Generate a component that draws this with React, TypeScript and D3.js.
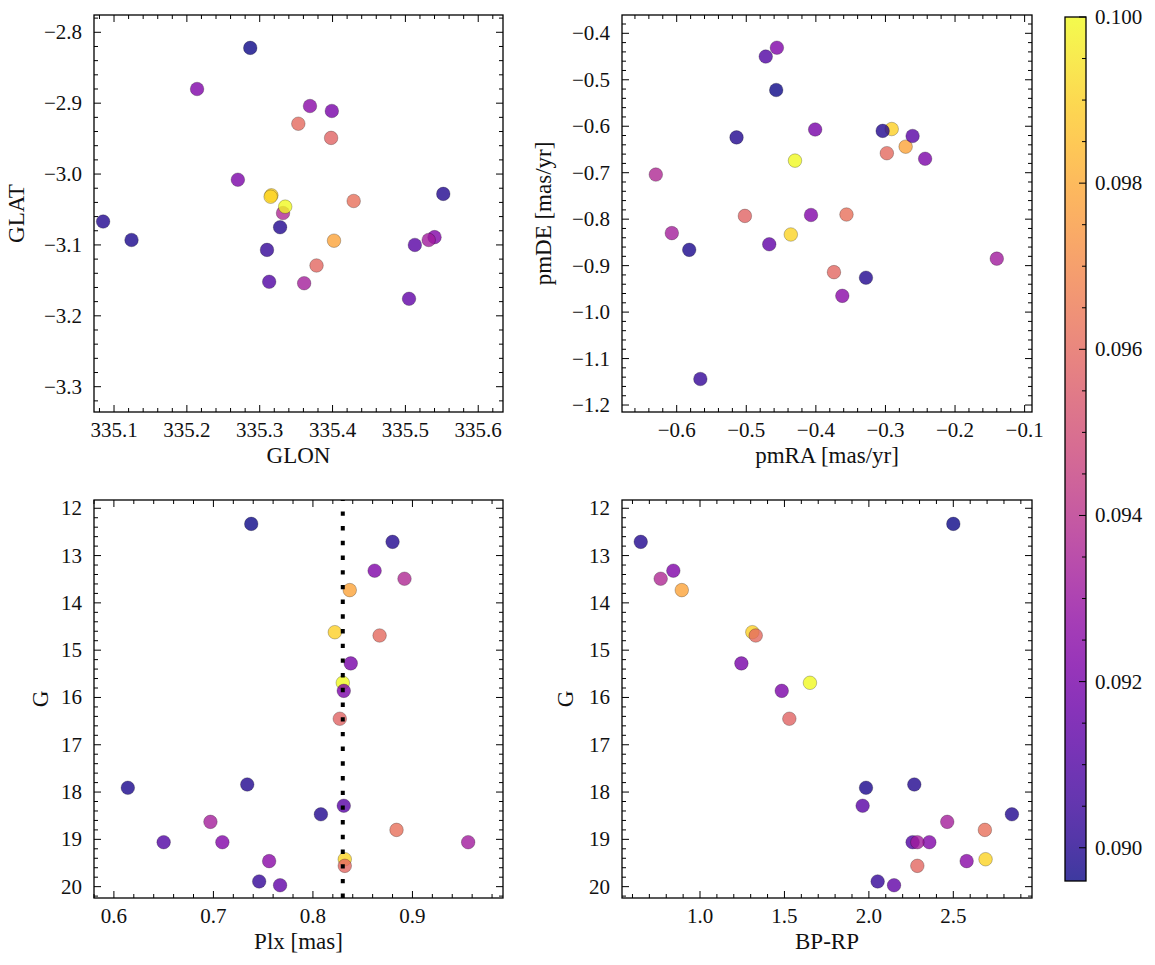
import React from "react";
import * as d3 from "d3";

// ---- data (one entry per star) ----
const glon = [335.287, 335.552, 335.214, 335.332, 335.402, 335.316, 335.353, 335.399, 335.335, 335.270, 335.398, 335.085, 335.124, 335.513, 335.328, 335.361, 335.429, 335.313, 335.540, 335.532, 335.315, 335.369, 335.378, 335.310, 335.505];
const glat = [-2.822, -3.028, -2.880, -3.055, -3.094, -3.030, -2.929, -2.911, -3.046, -3.008, -2.949, -3.067, -3.093, -3.100, -3.075, -3.154, -3.038, -3.152, -3.089, -3.093, -3.032, -2.904, -3.129, -3.107, -3.176];
const pmra = [-0.457, -0.514, -0.456, -0.630, -0.271, -0.291, -0.298, -0.401, -0.430, -0.243, -0.502, -0.304, -0.582, -0.261, -0.328, -0.607, -0.356, -0.472, -0.407, -0.140, -0.436, -0.362, -0.374, -0.566, -0.467];
const pmde = [-0.522, -0.624, -0.431, -0.704, -0.644, -0.606, -0.658, -0.607, -0.674, -0.670, -0.793, -0.610, -0.866, -0.621, -0.926, -0.830, -0.790, -0.450, -0.791, -0.885, -0.833, -0.965, -0.914, -1.144, -0.854];
const plx = [0.738, 0.880, 0.862, 0.892, 0.837, 0.822, 0.867, 0.838, 0.830, 0.831, 0.827, 0.734, 0.614, 0.831, 0.808, 0.697, 0.884, 0.650, 0.709, 0.956, 0.832, 0.756, 0.832, 0.746, 0.767];
const gmag = [12.33, 12.71, 13.32, 13.49, 13.73, 14.62, 14.69, 15.28, 15.69, 15.86, 16.45, 17.84, 17.91, 18.29, 18.47, 18.63, 18.80, 19.06, 19.06, 19.06, 19.42, 19.46, 19.56, 19.89, 19.97];
const bprp = [2.50, 0.649, 0.842, 0.767, 0.892, 1.310, 1.330, 1.245, 1.651, 1.484, 1.529, 2.269, 1.983, 1.963, 2.847, 2.464, 2.687, 2.259, 2.358, 2.287, 2.691, 2.579, 2.287, 2.052, 2.149];
const prob = [0.0896, 0.0899, 0.0922, 0.0937, 0.0978, 0.0990, 0.0960, 0.0920, 0.1000, 0.0921, 0.0958, 0.0899, 0.0898, 0.0912, 0.0899, 0.0933, 0.0962, 0.0910, 0.0923, 0.0932, 0.0991, 0.0925, 0.0959, 0.0903, 0.0914];

const plxRef = 0.83;
const cbTicks = [0.090, 0.092, 0.094, 0.096, 0.098, 0.100];

const FONT = "Liberation Serif, DejaVu Serif, Noto Serif, Times, serif";
const TICK_FS = 21;
const LABEL_FS = 23;

type Box = { l: number; r: number; t: number; b: number };
type Panel = {
  x: number[];
  y: number[];
  xDomain: [number, number];
  yDomain: [number, number];
  box: Box;
  xStep: number;
  xMinor: number;
  yStep: number;
  yMinor: number;
  xFmt: (v: number) => string;
  yFmt: (v: number) => string;
  xLabel: string;
  yLabel: string;
  yLabelX: number;
  vline?: number;
};

const f1 = d3.format(".1f");
const fd = d3.format("d");

const panels: Panel[] = [
  {
    x: glon, y: glat, xDomain: [335.0725, 335.634], yDomain: [-3.3357, -2.7756],
    box: { l: 94, r: 503, t: 15, b: 412 }, xStep: 0.1, xMinor: 0.02, yStep: 0.1, yMinor: 0.02,
    xFmt: f1, yFmt: f1, xLabel: "GLON", yLabel: "GLAT", yLabelX: 24,
  },
  {
    x: pmra, y: pmde, xDomain: [-0.6786, -0.0894], yDomain: [-1.215, -0.3606],
    box: { l: 622, r: 1032, t: 15, b: 412 }, xStep: 0.1, xMinor: 0.02, yStep: 0.1, yMinor: 0.02,
    xFmt: f1, yFmt: f1, xLabel: "pmRA [mas/yr]", yLabel: "pmDE [mas/yr]", yLabelX: 551,
  },
  {
    x: plx, y: gmag, xDomain: [0.58, 0.991], yDomain: [20.24, 11.825],
    box: { l: 94, r: 503, t: 500, b: 898 }, xStep: 0.1, xMinor: 0.02, yStep: 1, yMinor: 0.2,
    xFmt: f1, yFmt: fd, xLabel: "Plx [mas]", yLabel: "G", yLabelX: 48, vline: plxRef,
  },
  {
    x: bprp, y: gmag, xDomain: [0.538, 2.966], yDomain: [20.24, 11.825],
    box: { l: 622, r: 1032, t: 500, b: 898 }, xStep: 0.5, xMinor: 0.1, yStep: 1, yMinor: 0.2,
    xFmt: f1, yFmt: fd, xLabel: "BP-RP", yLabel: "G", yLabelX: 573,
  },
];

function stepTicks(domain: [number, number], step: number): number[] {
  const lo = Math.min(domain[0], domain[1]);
  const hi = Math.max(domain[0], domain[1]);
  const out: number[] = [];
  const k0 = Math.ceil(lo / step - 1e-9);
  const k1 = Math.floor(hi / step + 1e-9);
  for (let k = k0; k <= k1; k++) out.push(+(k * step).toFixed(6));
  return out;
}

const vmin = d3.min(prob) as number;
const vmax = d3.max(prob) as number;
const color = (v: number) => d3.interpolatePlasma((v - vmin) / (vmax - vmin));

const MAJ = 7;
const MIN = 4;

function PanelView({ p }: { p: Panel }) {
  const { box } = p;
  const xs = d3.scaleLinear().domain(p.xDomain).range([box.l, box.r]);
  const ys = d3.scaleLinear().domain(p.yDomain).range([box.b, box.t]);
  const xMaj = stepTicks(p.xDomain, p.xStep);
  const xMin = stepTicks(p.xDomain, p.xMinor).filter((v) => !xMaj.some((m) => Math.abs(m - v) < 1e-6));
  const yMaj = stepTicks(p.yDomain, p.yStep);
  const yMin = stepTicks(p.yDomain, p.yMinor).filter((v) => !yMaj.some((m) => Math.abs(m - v) < 1e-6));
  const cx = (box.l + box.r) / 2;
  const cy = (box.t + box.b) / 2;
  const clipId = `clip-${box.l}-${box.t}`;
  return (
    <g>
      <defs>
        <clipPath id={clipId}>
          <rect x={box.l} y={box.t} width={box.r - box.l} height={box.b - box.t} />
        </clipPath>
      </defs>
      <g clipPath={`url(#${clipId})`}>
        {p.x.map((xv, i) => (
          <circle
            key={i}
            cx={xs(xv)}
            cy={ys(p.y[i])}
            r={6.8}
            fill={color(prob[i])}
            fillOpacity={0.8}
            stroke="#000"
            strokeOpacity={0.35}
            strokeWidth={0.7}
          />
        ))}
        {p.vline !== undefined && (
          <line
            x1={xs(p.vline)}
            x2={xs(p.vline)}
            y1={box.b}
            y2={box.t}
            stroke="#000"
            strokeWidth={4}
            strokeDasharray="4.4 10.3"
          />
        )}
      </g>
      <g stroke="#000" strokeWidth={1}>
        {xMaj.map((v) => (
          <g key={"xM" + v}>
            <line x1={xs(v)} x2={xs(v)} y1={box.b} y2={box.b - MAJ} />
            <line x1={xs(v)} x2={xs(v)} y1={box.t} y2={box.t + MAJ} />
          </g>
        ))}
        {xMin.map((v) => (
          <g key={"xm" + v}>
            <line x1={xs(v)} x2={xs(v)} y1={box.b} y2={box.b - MIN} />
            <line x1={xs(v)} x2={xs(v)} y1={box.t} y2={box.t + MIN} />
          </g>
        ))}
        {yMaj.map((v) => (
          <g key={"yM" + v}>
            <line x1={box.l} x2={box.l + MAJ} y1={ys(v)} y2={ys(v)} />
            <line x1={box.r} x2={box.r - MAJ} y1={ys(v)} y2={ys(v)} />
          </g>
        ))}
        {yMin.map((v) => (
          <g key={"ym" + v}>
            <line x1={box.l} x2={box.l + MIN} y1={ys(v)} y2={ys(v)} />
            <line x1={box.r} x2={box.r - MIN} y1={ys(v)} y2={ys(v)} />
          </g>
        ))}
      </g>
      <rect x={box.l} y={box.t} width={box.r - box.l} height={box.b - box.t} fill="none" stroke="#000" strokeWidth={1.3} />
      <g style={{ fontFamily: FONT }} fontSize={TICK_FS} fill="#111">
        {xMaj.map((v) => (
          <text key={"xl" + v} x={xs(v)} y={box.b + 25} textAnchor="middle">
            {p.xFmt(v)}
          </text>
        ))}
        {yMaj.map((v) => (
          <text key={"yl" + v} x={box.l - 12} y={ys(v) + 7} textAnchor="end">
            {p.yFmt(v)}
          </text>
        ))}
      </g>
      <text x={cx} y={box.b + 51} textAnchor="middle" style={{ fontFamily: FONT }} fontSize={LABEL_FS} fill="#111">
        {p.xLabel}
      </text>
      <text
        transform={`translate(${p.yLabelX},${cy}) rotate(-90)`}
        textAnchor="middle"
        style={{ fontFamily: FONT }}
        fontSize={LABEL_FS}
        fill="#111"
      >
        {p.yLabel}
      </text>
    </g>
  );
}

function Colorbar() {
  const l = 1065, r = 1086, t = 17, b = 881;
  const cs = d3.scaleLinear().domain([0.0896, 0.1]).range([b, t]);
  const stops = d3.range(0, 1.0001, 0.05);
  const minor = stepTicks([0.0896, 0.1], 0.0005).filter((v) => !cbTicks.some((m) => Math.abs(m - v) < 1e-7));
  return (
    <g>
      <defs>
        <linearGradient id="cbgrad" x1="0" y1="1" x2="0" y2="0">
          {stops.map((s) => (
            <stop key={s} offset={s} stopColor={d3.interpolatePlasma(s)} stopOpacity={0.8} />
          ))}
        </linearGradient>
      </defs>
      <rect x={l} y={t} width={r - l} height={b - t} fill="url(#cbgrad)" />
      <g stroke="#000" strokeWidth={1}>
        {cbTicks.map((v) => (
          <line key={"c" + v} x1={r} x2={r - MAJ} y1={cs(v)} y2={cs(v)} />
        ))}
        {minor.map((v) => (
          <line key={"cm" + v} x1={r} x2={r - MIN} y1={cs(v)} y2={cs(v)} />
        ))}
      </g>
      <rect x={l} y={t} width={r - l} height={b - t} fill="none" stroke="#000" strokeWidth={1.3} />
      <g style={{ fontFamily: FONT }} fontSize={TICK_FS} fill="#111">
        {cbTicks.map((v) => (
          <text key={"cl" + v} x={r + 9} y={cs(v) + 7}>
            {d3.format(".3f")(v)}
          </text>
        ))}
      </g>
    </g>
  );
}

export default function App() {
  return (
    <svg width={1155} height={965} style={{ display: "block", position: "absolute", left: 0, top: 0, background: "#fff" }}>
      <rect width={1155} height={965} fill="#fff" />
      {panels.map((p, i) => (
        <PanelView key={i} p={p} />
      ))}
      <Colorbar />
    </svg>
  );
}
